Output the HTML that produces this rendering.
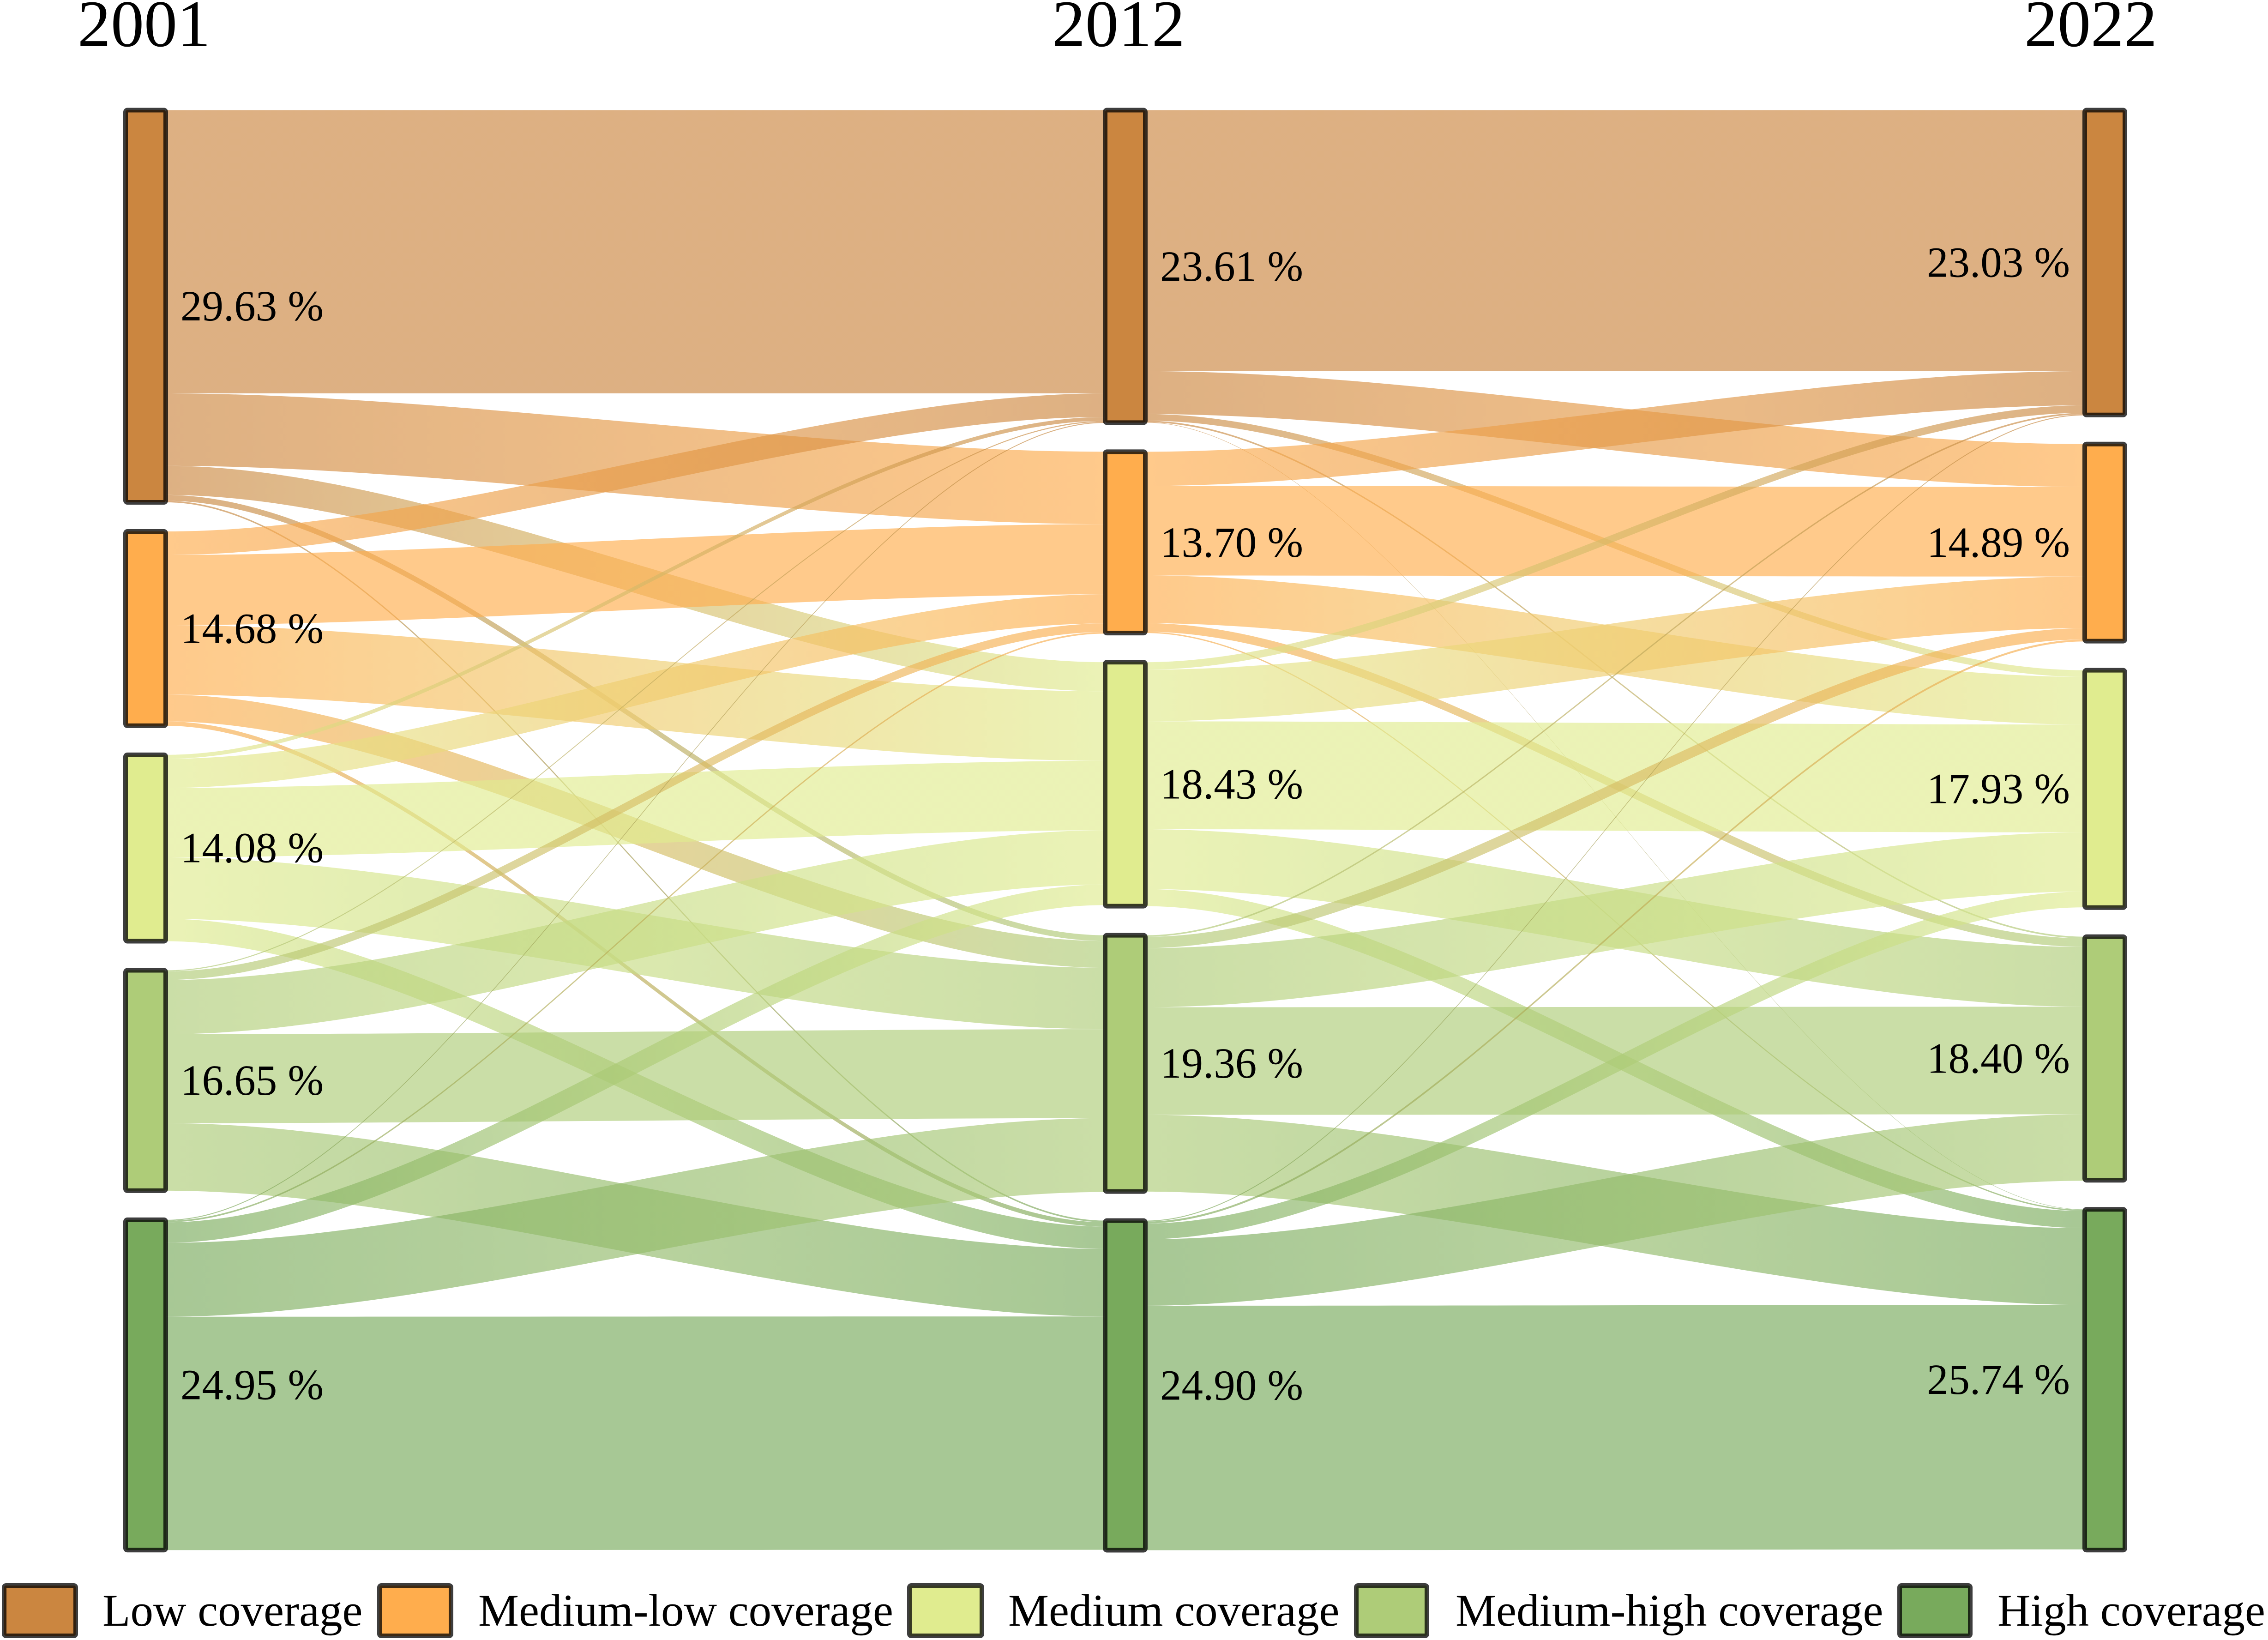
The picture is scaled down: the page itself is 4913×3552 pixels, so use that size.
<!DOCTYPE html>
<html lang="en">
<head>
<meta charset="utf-8">
<title>Coverage transitions 2001–2022</title>
<style>
html,body{margin:0;padding:0;background:#fff;}
svg{display:block;font-family:"Liberation Serif",serif;}
</style>
</head>
<body>
<svg id="chart" xmlns="http://www.w3.org/2000/svg" width="4913" height="3552" viewBox="0 0 4913 3552">
  <rect x="0" y="0" width="4913" height="3552" fill="#ffffff"/>
  <defs id="gradients"></defs>
  <g id="links"></g>
  <g id="nodes"></g>
  <g id="labels" font-size="93" fill="#000"></g>
  <g font-size="144" fill="#000">
    <text x="168" y="100">2001</text>
    <text x="2279" y="100">2012</text>
    <text x="4385" y="100">2022</text>
  </g>
  <g font-size="99" fill="#000">
    <g>
      <rect x="9" y="3434" width="155" height="109" rx="4" fill="#CB8640" stroke="#000" stroke-opacity="0.76" stroke-width="10"/>
      <text x="222" y="3521">Low coverage</text>
    </g>
    <g>
      <rect x="822" y="3434" width="155" height="109" rx="4" fill="#FFAD4D" stroke="#000" stroke-opacity="0.76" stroke-width="10"/>
      <text x="1036" y="3521">Medium-low coverage</text>
    </g>
    <g>
      <rect x="1970" y="3434" width="157" height="109" rx="4" fill="#E0EC8F" stroke="#000" stroke-opacity="0.76" stroke-width="10"/>
      <text x="2184" y="3521">Medium coverage</text>
    </g>
    <g>
      <rect x="2938" y="3434" width="153" height="109" rx="4" fill="#AECC78" stroke="#000" stroke-opacity="0.76" stroke-width="10"/>
      <text x="3153" y="3521">Medium-high coverage</text>
    </g>
    <g>
      <rect x="4115" y="3434" width="153" height="109" rx="4" fill="#78AA5C" stroke="#000" stroke-opacity="0.76" stroke-width="10"/>
      <text x="4327" y="3521">High coverage</text>
    </g>
  </g>
</svg>
<script>
const categories = ['low', 'medium-low', 'medium', 'medium-high', 'high'];
const years = ['2001', '2012', '2022'];
const colors = ['#CB8640', '#FFAD4D', '#E0EC8F', '#AECC78', '#78AA5C'];

const shares2001 = [29.63, 14.68, 14.08, 16.65, 24.95];
const shares2012 = [23.61, 13.70, 18.43, 19.36, 24.90];
const shares2022 = [23.03, 14.89, 17.93, 18.40, 25.74];

// rows: source class in the earlier year, columns: target class in the later year
const flowsLow2001 = [21.40, 5.47, 2.20, 0.44, 0.12];
const flowsMedLow2001 = [1.78, 5.30, 5.25, 2.02, 0.33];
const flowsMed2001 = [0.30, 2.20, 5.25, 4.64, 1.69];
const flowsMedHigh2001 = [0.08, 0.65, 4.10, 6.72, 5.10];
const flowsHigh2001 = [0.07, 0.12, 1.55, 5.58, 17.63];

const flowsLow2012 = [19.72, 3.24, 0.50, 0.12, 0.03];
const flowsMedLow2012 = [2.58, 6.77, 3.60, 0.65, 0.10];
const flowsMed2012 = [0.57, 3.90, 8.15, 4.52, 1.29];
const flowsMedHigh2012 = [0.12, 0.85, 4.47, 8.13, 5.80];
const flowsHigh2012 = [0.07, 0.15, 1.19, 5.02, 18.47];

const NS = 'http://www.w3.org/2000/svg';
const shares = [shares2001, shares2012, shares2022];
const stages = [
  [flowsLow2001, flowsMedLow2001, flowsMed2001, flowsMedHigh2001, flowsHigh2001],
  [flowsLow2012, flowsMedLow2012, flowsMed2012, flowsMedHigh2012, flowsHigh2012]
];

function yLen(v) { return v * 28.67; }
function nodeLeft(c) { return [272, 2394, 4516][c]; }
const NODE_W = 87, TOP = 238.5, GAP = 63, CURVE = 0.3, LINK_OPACITY = 0.65;

function nodeTops(col) {
  const tops = [];
  let y = TOP;
  col.forEach(function (v) { tops.push(y); y += yLen(v) + GAP; });
  return tops;
}
const tops = shares.map(nodeTops);

function make(tag, attrs, parent) {
  const el = document.createElementNS(NS, tag);
  Object.keys(attrs).forEach(function (k) { el.setAttribute(k, attrs[k]); });
  parent.appendChild(el);
  return el;
}

const defs = document.getElementById('gradients');
const linkLayer = document.getElementById('links');
const nodeLayer = document.getElementById('nodes');
const labelLayer = document.getElementById('labels');

stages.forEach(function (matrix, s) {
  const x0 = nodeLeft(s) + NODE_W;
  const x1 = nodeLeft(s + 1);
  const c0 = x0 + (x1 - x0) * CURVE;
  const c1 = x1 - (x1 - x0) * CURVE;
  const targetOffset = [0, 0, 0, 0, 0];
  matrix.forEach(function (row, i) {
    let sourceOffset = 0;
    row.forEach(function (v, j) {
      const h = yLen(v);
      const a = tops[s][i] + sourceOffset;
      const b = tops[s + 1][j] + targetOffset[j];
      sourceOffset += h;
      targetOffset[j] += h;
      const id = 'g' + s + i + j;
      const grad = make('linearGradient', { id: id, gradientUnits: 'userSpaceOnUse', x1: x0, y1: 0, x2: x1, y2: 0 }, defs);
      make('stop', { offset: '0', 'stop-color': colors[i] }, grad);
      make('stop', { offset: '1', 'stop-color': colors[j] }, grad);
      const d = 'M' + x0 + ',' + a +
        'C' + c0 + ',' + a + ' ' + c1 + ',' + b + ' ' + x1 + ',' + b +
        'L' + x1 + ',' + (b + h) +
        'C' + c1 + ',' + (b + h) + ' ' + c0 + ',' + (a + h) + ' ' + x0 + ',' + (a + h) + 'Z';
      const path = document.createElementNS(NS, 'path');
      path.setAttribute('d', d);
      path.setAttribute('fill', 'url(#' + id + ')');
      path.setAttribute('fill-opacity', LINK_OPACITY);
      
      
      linkLayer.appendChild(path);
    });
  });
});

shares.forEach(function (col, c) {
  col.forEach(function (v, i) {
    const rect = document.createElementNS(NS, 'rect');
    rect.setAttribute('x', nodeLeft(c));
    rect.setAttribute('y', tops[c][i]);
    rect.setAttribute('width', NODE_W);
    rect.setAttribute('height', yLen(v));
    rect.setAttribute('rx', 4);
    rect.setAttribute('fill', colors[i]);
    rect.setAttribute('stroke', '#000');
    rect.setAttribute('stroke-opacity', 0.76);
    rect.setAttribute('stroke-width', 10);
    
    
    nodeLayer.appendChild(rect);

    const t = document.createElementNS(NS, 'text');
    t.textContent = v.toFixed(2) + ' %';
    t.setAttribute('y', tops[c][i] + yLen(v) / 2 + 31);
    if (c === 2) {
      t.setAttribute('x', 4484);
      t.setAttribute('text-anchor', 'end');
    } else {
      t.setAttribute('x', c === 0 ? 391 : 2513);
    }
    
    
    labelLayer.appendChild(t);
  });
});
</script>
</body>
</html>
